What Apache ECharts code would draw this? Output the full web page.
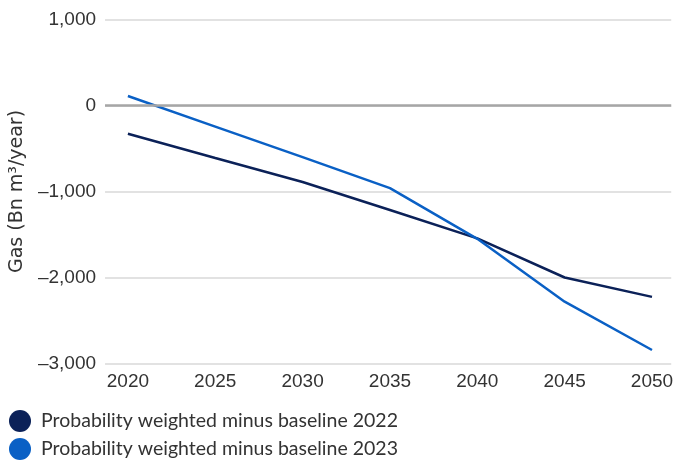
<!DOCTYPE html>
<html><head><meta charset="utf-8">
<script src="https://cdn.jsdelivr.net/npm/echarts@6/dist/echarts.min.js"></script>
<style>html,body{margin:0;padding:0;background:#fff}#c{width:676px;height:461px}</style>
</head><body><div id="c"></div>
<script>
const years = [2020, 2025, 2030, 2035, 2040, 2045, 2050];
const series2022 = [-328, -610, -890, -1215, -1545, -2000, -2225];
const series2023 = [110, -245, -600, -960, -1550, -2281, -2843];
const seriesNames = ['Probability weighted minus baseline 2022', 'Probability weighted minus baseline 2023'];
const yTicks = [-3000, -2000, -1000, 0, 1000];

const chart = echarts.init(document.getElementById('c'));
const fmt = v => (v < 0 ? '\u2013' : '') + Math.abs(v).toLocaleString('en-US');
const tickFont = 'Liberation Sans, Arial, sans-serif';
chart.setOption({
  animation: false,
  grid: { left: 101, right: 4, top: 19.5, bottom: 97.5, containLabel: false },
  legend: {
    orient: 'vertical', left: 9, top: 410, padding: 0, itemWidth: 22, itemHeight: 22, itemGap: 6,
    icon: 'circle', height: 60,
    textStyle: { fontFamily: 'Lato, sans-serif', fontSize: 19.5, color: '#333', padding: [0, 0, 0, 5] },
    data: seriesNames
  },
  xAxis: {
    type: 'value', min: 2018.69, max: 2051.1,
    axisLine: { show: false }, axisTick: { show: false }, splitLine: { show: false },
    axisLabel: { customValues: years, formatter: v => String(v), margin: 9, fontFamily: tickFont, fontSize: 19, color: '#333' }
  },
  yAxis: {
    type: 'value', min: yTicks[0], max: yTicks[yTicks.length - 1], interval: 1000,
    name: 'Gas (Bn m\u00b3/year)', nameLocation: 'middle', nameGap: 69,
    nameTextStyle: { fontFamily: 'DejaVu Sans, sans-serif', fontSize: 19, color: '#333' },
    axisLine: { show: false }, axisTick: { show: false },
    axisLabel: { formatter: fmt, margin: 9, fontFamily: tickFont, fontSize: 19, color: '#333' },
    splitLine: { lineStyle: { color: '#d9d9d9', width: 1.5 } }
  },
  series: [
    {
      name: seriesNames[0], type: 'line', showSymbol: false, color: '#0b2158',
      lineStyle: { width: 2.5, color: '#0b2158' },
      data: years.map((y, i) => [y, series2022[i]]),
      markLine: { silent: true, symbol: 'none', label: { show: false },
        lineStyle: { color: '#a6a6a6', width: 2.5, type: 'solid' }, data: [{ yAxis: 0 }] },
      z: 3
    },
    {
      name: seriesNames[1], type: 'line', showSymbol: false, color: '#0a60c5',
      lineStyle: { width: 2.5, color: '#0a60c5' },
      data: years.map((y, i) => [y, series2023[i]]),
      z: 4
    }
  ]
});
</script></body></html>
